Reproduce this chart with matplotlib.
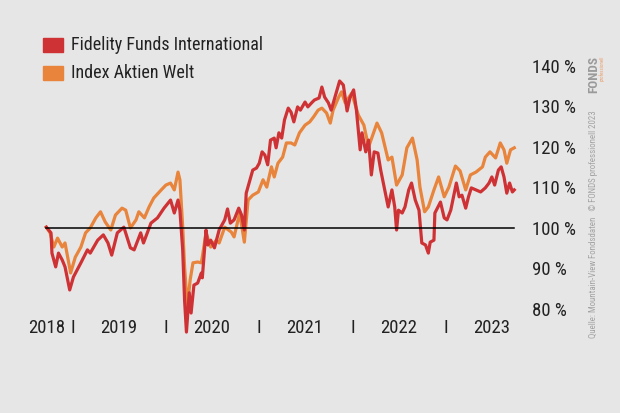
import matplotlib
matplotlib.use("Agg")
import matplotlib.pyplot as plt
from matplotlib import font_manager

# pick a narrow font if one is around
names = {f.name for f in font_manager.fontManager.ttflist}
FONT = 'DejaVu Sans'
for cand in ['Liberation Sans Narrow', 'Roboto Condensed', 'Open Sans Condensed']:
    if cand in names:
        FONT = cand
        break
plt.rcParams['font.family'] = [FONT, 'DejaVu Sans']
plt.rcParams['font.stretch'] = 'condensed'

# values (decimal year, percent)
fund_t = [2018.72, 2018.77, 2018.78, 2018.82, 2018.85, 2018.89, 2018.92, 2018.97,
          2019.01, 2019.09, 2019.16, 2019.19, 2019.27, 2019.33, 2019.38, 2019.42,
          2019.48, 2019.55, 2019.62, 2019.66, 2019.73, 2019.76, 2019.84, 2019.91,
          2019.98, 2020.05, 2020.09, 2020.13, 2020.15, 2020.18, 2020.20, 2020.22,
          2020.25, 2020.27, 2020.30, 2020.34, 2020.38, 2020.39, 2020.43, 2020.45,
          2020.48, 2020.52, 2020.57, 2020.63, 2020.66, 2020.69, 2020.73, 2020.78,
          2020.81, 2020.84, 2020.86, 2020.90, 2020.93, 2020.97, 2021.00, 2021.03,
          2021.06, 2021.09, 2021.12, 2021.16, 2021.18, 2021.21, 2021.24, 2021.27,
          2021.31, 2021.34, 2021.37, 2021.41, 2021.44, 2021.49, 2021.52, 2021.56,
          2021.59, 2021.64, 2021.67, 2021.70, 2021.74, 2021.77, 2021.81, 2021.86,
          2021.90, 2021.94, 2021.97, 2022.01, 2022.04, 2022.08, 2022.10, 2022.14,
          2022.17, 2022.20, 2022.23, 2022.27, 2022.30, 2022.35, 2022.38, 2022.42,
          2022.45, 2022.47, 2022.49, 2022.53, 2022.56, 2022.60, 2022.63, 2022.67,
          2022.71, 2022.74, 2022.78, 2022.81, 2022.83, 2022.87, 2022.88, 2022.94,
          2022.98, 2023.01, 2023.05, 2023.08, 2023.11, 2023.14, 2023.17, 2023.21,
          2023.24, 2023.27, 2023.32, 2023.37, 2023.42, 2023.46, 2023.49, 2023.52,
          2023.56, 2023.59, 2023.62, 2023.65, 2023.68, 2023.71, 2023.73]
fund_v = [100.2, 98.8, 93.8, 90.4, 93.8, 92.1, 90.4, 84.7,
          87.9, 91.4, 94.6, 93.8, 97.0, 98.3, 96.3, 93.3,
          98.8, 100.2, 95.1, 94.6, 98.8, 96.3, 101.2, 102.5,
          104.9, 106.9, 103.7, 106.9, 104.4, 94.6, 82.2, 74.3,
          84.0, 79.0, 85.9, 86.4, 88.9, 87.7, 99.5, 95.8,
          97.0, 95.1, 99.5, 102.0, 104.7, 101.2, 102.0, 104.9,
          103.2, 99.5, 108.6, 111.9, 114.3, 114.8, 116.0, 118.8,
          118.0, 115.6, 121.7, 122.2, 119.8, 123.5, 122.2, 126.7,
          129.6, 128.6, 126.2, 129.9, 129.1, 131.1, 129.9, 130.9,
          131.6, 132.1, 134.8, 132.3, 130.9, 129.1, 132.3, 136.3,
          135.3, 128.9, 132.1, 134.1, 129.1, 119.3, 123.5, 118.8,
          121.7, 113.1, 118.8, 118.5, 114.3, 108.6, 105.2, 109.4,
          105.2, 99.5, 104.4, 103.7, 105.2, 109.4, 111.1, 106.9,
          104.4, 96.3, 95.8, 93.8, 96.5, 97.0, 103.7, 106.4,
          102.5, 102.0, 104.4, 107.7, 111.1, 107.7, 108.1, 104.9,
          107.7, 109.9, 109.4, 108.9, 109.9, 111.1, 112.6, 110.6,
          114.3, 115.1, 112.6, 108.6, 111.1, 108.9, 109.4]

index_t = [2018.72, 2018.76, 2018.80, 2018.84, 2018.89, 2018.92, 2018.98, 2019.03,
           2019.09, 2019.14, 2019.19, 2019.25, 2019.30, 2019.35, 2019.41, 2019.46,
           2019.53, 2019.57, 2019.62, 2019.68, 2019.71, 2019.77, 2019.82, 2019.87,
           2019.95, 2020.00, 2020.05, 2020.09, 2020.13, 2020.15, 2020.18, 2020.20,
           2020.23, 2020.26, 2020.29, 2020.34, 2020.38, 2020.43, 2020.48, 2020.54,
           2020.57, 2020.63, 2020.70, 2020.73, 2020.79, 2020.84, 2020.88, 2020.93,
           2020.99, 2021.04, 2021.08, 2021.13, 2021.16, 2021.20, 2021.25, 2021.29,
           2021.34, 2021.38, 2021.43, 2021.49, 2021.54, 2021.58, 2021.63, 2021.67,
           2021.72, 2021.76, 2021.79, 2021.85, 2021.88, 2021.92, 2021.99, 2022.06,
           2022.12, 2022.17, 2022.26, 2022.31, 2022.38, 2022.42, 2022.47, 2022.53,
           2022.58, 2022.64, 2022.69, 2022.72, 2022.77, 2022.81, 2022.87, 2022.92,
           2022.98, 2023.03, 2023.10, 2023.15, 2023.21, 2023.26, 2023.32, 2023.39,
           2023.42, 2023.47, 2023.53, 2023.58, 2023.62, 2023.65, 2023.69, 2023.73]
index_v = [100.2, 98.8, 95.3, 97.5, 95.3, 96.3, 88.9, 92.8,
           95.3, 98.8, 100.0, 102.5, 104.0, 101.5, 99.5, 103.2,
           104.9, 104.4, 100.0, 102.0, 104.0, 102.5, 105.2, 107.4,
           109.4, 110.6, 111.1, 109.4, 113.8, 111.9, 100.2, 90.4,
           80.5, 87.2, 91.4, 91.6, 91.4, 98.8, 95.3, 97.0,
           96.3, 100.2, 99.0, 97.8, 103.7, 96.5, 106.9, 108.1,
           108.9, 111.9, 110.1, 115.1, 112.6, 116.0, 117.5, 121.0,
           121.0, 120.5, 123.5, 125.4, 126.2, 127.4, 129.1, 129.6,
           128.4, 125.9, 129.1, 132.3, 133.6, 130.9, 133.3, 127.9,
           125.4, 120.0, 125.9, 123.5, 116.8, 117.5, 110.6, 113.1,
           119.8, 122.2, 116.8, 110.1, 104.0, 105.2, 109.4, 112.6,
           107.7, 110.1, 115.3, 114.1, 109.4, 113.1, 113.8, 115.1,
           117.5, 118.8, 117.3, 121.0, 119.3, 116.0, 119.3, 119.8]

series_names = ['Fidelity Funds International', 'Index Aktien Welt']
year_labels = ['2018', '2019', '2020', '2021', '2022', '2023']
year_label_pos = [2018.72, 2019.49, 2020.49, 2021.49, 2022.49, 2023.49]
year_breaks = [2019, 2020, 2021, 2022, 2023]
y_ticks = [80, 90, 100, 110, 120, 130, 140]

RED = '#cf3234'
ORANGE = '#e8843b'
BG = '#e6e6e6'
TXT = '#222222'

fig = plt.figure(figsize=(6.2, 4.13), dpi=100, facecolor=BG)
ax = fig.add_axes([0.0642, 0.1734, 0.7758, 0.6864], facecolor=BG)

ax.plot(index_t, index_v, color=ORANGE, lw=2.3, solid_joinstyle='round', zorder=2)
ax.plot(fund_t, fund_v, color=RED, lw=2.3, solid_joinstyle='round', zorder=3,
        clip_on=False)
ax.plot([fund_t[0], fund_t[-1]], [100, 100], color='black', lw=1.1, zorder=4)

ax.set_xlim(2018.65, 2023.80)
ax.set_ylim(72, 142)
for s in ax.spines.values():
    s.set_visible(False)

ax.yaxis.tick_right()
ax.set_yticks(y_ticks)
ax.set_yticklabels(['%d %%' % v for v in y_ticks])
ax.tick_params(axis='y', length=0, pad=8, labelsize=13.5, labelcolor=TXT)

ax.set_xticks(year_label_pos)
ax.set_xticklabels(year_labels)
ax.set_xticks(year_breaks, minor=True)
ax.set_xticklabels(['I'] * len(year_breaks), minor=True)
ax.tick_params(axis='x', which='both', length=0, pad=-16, labelsize=13.5,
               labelcolor=TXT)

# legend as coloured squares with labels
for i, (name, col) in enumerate(zip(series_names, [RED, ORANGE])):
    y = 0.892 - i * 0.068
    fig.patches.append(plt.Rectangle((0.069, y - 0.017), 0.032, 0.034,
                                     transform=fig.transFigure, color=col))
    fig.text(0.114, y, name, fontsize=13, color=TXT, va='center', ha='left')

# source note and logo on the right
fig.text(0.958, 0.182, 'Quelle: Mountain-View Fondsdaten   \u00a9 FONDS professionell 2023',
         rotation=90, fontsize=6.4, color='#a3a3a3', ha='center', va='bottom')
fig.text(0.957, 0.775, 'FONDS', rotation=90, fontsize=9.5, fontweight='bold',
         color='#9a9a9a', ha='center', va='bottom')
fig.text(0.971, 0.805, 'professionell', rotation=90, fontsize=3.5,
         color='#e9a070', ha='center', va='bottom')

fig.savefig('out.png', dpi=100, facecolor=BG)
